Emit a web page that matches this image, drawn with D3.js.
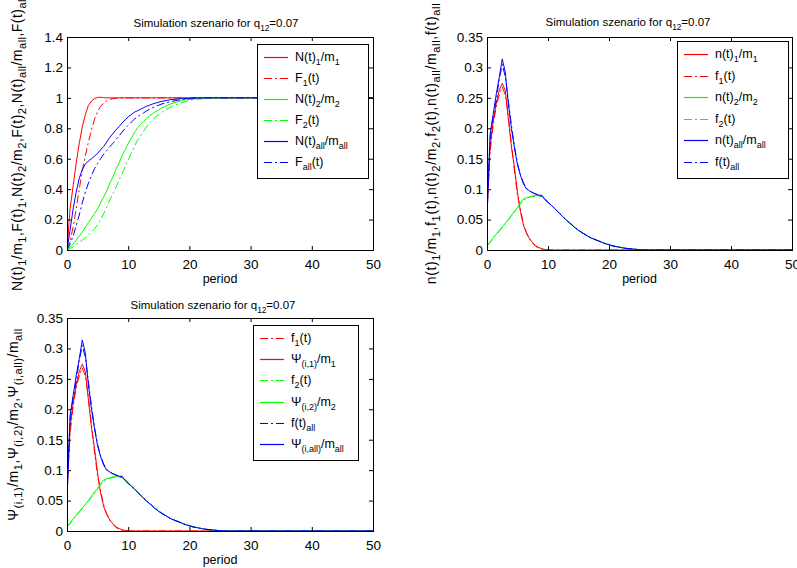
<!doctype html>
<html lang="en">
<head>
<meta charset="UTF-8">
<title>Simulation szenario</title>
<style>
  body { margin: 0; background: #fff; }
  svg { font-family: "Liberation Sans", Arial, sans-serif; }
</style>
</head>
<body>
<svg id="chart" width="797" height="568"></svg>
<script src="https://cdn.jsdelivr.net/npm/d3@7"></script>
<script>
// values are sampled every 0.5 period starting at 0; the last value is held up to period 50
const step = 0.5
const xTicks = [0, 10, 20, 30, 40, 50]
const cumTicks = [0, 0.2, 0.4, 0.6, 0.8, 1, 1.2, 1.4]
const denTicks = [0, 0.05, 0.1, 0.15, 0.2, 0.25, 0.3, 0.35]

// cumulative shares (top left)
const N1 = [0, 0.27, 0.42, 0.57, 0.70, 0.81, 0.89, 0.95, 0.98, 0.995, 1.003, 1.004, 1.001, 1]
const F1 = [0, 0.06, 0.15, 0.27, 0.40, 0.52, 0.62, 0.71, 0.79, 0.86, 0.91, 0.945, 0.967, 0.982, 0.99, 0.995, 0.998, 1]
const N2 = [0, 0.02, 0.04, 0.065, 0.09, 0.12, 0.15, 0.18, 0.21, 0.24, 0.27, 0.31, 0.35, 0.39, 0.44, 0.48, 0.53, 0.57,
  0.62, 0.66, 0.70, 0.735, 0.77, 0.80, 0.825, 0.845, 0.865, 0.882, 0.897, 0.91, 0.922, 0.934, 0.944, 0.953, 0.961,
  0.968, 0.974, 0.979, 0.984, 0.988, 0.991, 0.993, 0.995, 0.997, 0.998, 0.999, 1]
const F2 = [0, 0.01, 0.02, 0.035, 0.05, 0.065, 0.08, 0.10, 0.12, 0.14, 0.165, 0.20, 0.24, 0.28, 0.33, 0.37, 0.41, 0.46,
  0.50, 0.55, 0.59, 0.635, 0.68, 0.72, 0.75, 0.78, 0.81, 0.835, 0.855, 0.875, 0.89, 0.905, 0.92, 0.93, 0.94, 0.95,
  0.958, 0.965, 0.972, 0.977, 0.982, 0.986, 0.989, 0.991, 0.993, 0.995, 0.996, 0.997, 0.998, 0.999, 1]
const Nall = [0, 0.13, 0.27, 0.38, 0.47, 0.53, 0.565, 0.585, 0.60, 0.617, 0.635, 0.66, 0.68, 0.71, 0.74, 0.765, 0.79,
  0.81, 0.835, 0.855, 0.875, 0.89, 0.905, 0.915, 0.925, 0.935, 0.945, 0.952, 0.96, 0.966, 0.972, 0.977, 0.981, 0.985,
  0.988, 0.99, 0.992, 0.994, 0.995, 0.996, 0.997, 0.998, 0.999, 1]
const Fall = [0, 0.04, 0.09, 0.16, 0.23, 0.31, 0.38, 0.44, 0.49, 0.535, 0.57, 0.60, 0.63, 0.655, 0.68, 0.70, 0.725, 0.75,
  0.775, 0.80, 0.82, 0.84, 0.86, 0.875, 0.89, 0.90, 0.915, 0.925, 0.935, 0.945, 0.952, 0.96, 0.966, 0.971, 0.976, 0.98,
  0.984, 0.987, 0.99, 0.992, 0.994, 0.995, 0.996, 0.997, 0.998, 0.999, 1]

// densities (top right and bottom left)
const n1 = [0.07, 0.17, 0.21, 0.24, 0.262, 0.274, 0.262, 0.215, 0.17, 0.135, 0.095, 0.062, 0.04, 0.027, 0.018, 0.012,
  0.007, 0.004, 0.002, 0.001, 0]
const f1 = [0.06, 0.16, 0.205, 0.235, 0.255, 0.268, 0.255, 0.22, 0.175, 0.13, 0.09, 0.065, 0.042, 0.028, 0.018, 0.011,
  0.006, 0.003, 0.001, 0]
const n2 = [0.008, 0.013, 0.02, 0.026, 0.032, 0.038, 0.044, 0.05, 0.057, 0.064, 0.07, 0.078, 0.084, 0.086, 0.087, 0.089,
  0.09, 0.089, 0.088, 0.083, 0.078, 0.074, 0.069, 0.064, 0.059, 0.054, 0.049, 0.045, 0.04, 0.036, 0.032, 0.029, 0.026,
  0.023, 0.02, 0.018, 0.016, 0.014, 0.012, 0.01, 0.009, 0.007, 0.006, 0.005, 0.004, 0.003, 0.0025, 0.002, 0.0015, 0.001,
  0.0005, 0]
const f2 = [0.007, 0.012, 0.019, 0.025, 0.031, 0.037, 0.043, 0.049, 0.056, 0.062, 0.069, 0.076, 0.082, 0.085, 0.087,
  0.088, 0.089, 0.089, 0.087, 0.084, 0.079, 0.074, 0.069, 0.064, 0.059, 0.054, 0.05, 0.045, 0.041, 0.037, 0.033, 0.029,
  0.026, 0.023, 0.02, 0.018, 0.016, 0.014, 0.012, 0.01, 0.0085, 0.007, 0.006, 0.005, 0.004, 0.003, 0.0025, 0.002, 0.0015,
  0.001, 0.0005, 0]
const nall = [0.06, 0.19, 0.222, 0.255, 0.283, 0.314, 0.292, 0.24, 0.2, 0.168, 0.14, 0.122, 0.108, 0.1, 0.097, 0.094,
  0.092, 0.09, 0.09, 0.083, 0.078, 0.074, 0.069, 0.064, 0.059, 0.054, 0.049, 0.045, 0.04, 0.036, 0.032, 0.029, 0.026,
  0.023, 0.02, 0.018, 0.016, 0.014, 0.012, 0.01, 0.009, 0.007, 0.006, 0.005, 0.004, 0.003, 0.0025, 0.002, 0.0015, 0.001,
  0.0005, 0]
const fall = [0.05, 0.18, 0.22, 0.245, 0.28, 0.305, 0.285, 0.245, 0.205, 0.17, 0.142, 0.123, 0.11, 0.101, 0.097, 0.094,
  0.092, 0.09, 0.088, 0.084, 0.079, 0.074, 0.069, 0.064, 0.059, 0.054, 0.05, 0.045, 0.041, 0.037, 0.033, 0.029, 0.026,
  0.023, 0.02, 0.018, 0.016, 0.014, 0.012, 0.01, 0.0085, 0.007, 0.006, 0.005, 0.004, 0.003, 0.0025, 0.002, 0.0015, 0.001,
  0.0005, 0]

const RED = '#ff0000', GREEN = '#00ff00', BLUE = '#0000ff'
const DASH = '8,3,2,3'

const panels = [
  {
    box: [67, 373, 37, 250], yMax: 1.4, yTicks: cumTicks, titleX: 216, titleY: 27, ylabX: 22, ylabSpacing: 0.45,
    ylabel: 'N(t)_{1}/m_{1},F(t)_{1},N(t)_{2}/m_{2},F(t)_{2},N(t)_{all}/m_{all},F(t)_{all}',
    legend: {x: 257, y: 44, w: 111, h: 134},
    series: [
      {v: N1, c: RED, d: false, label: 'N(t)_{1}/m_{1}'},
      {v: F1, c: RED, d: true, label: 'F_{1}(t)'},
      {v: N2, c: GREEN, d: false, label: 'N(t)_{2}/m_{2}'},
      {v: F2, c: GREEN, d: true, label: 'F_{2}(t)'},
      {v: Nall, c: BLUE, d: false, label: 'N(t)_{all}/m_{all}'},
      {v: Fall, c: BLUE, d: true, label: 'F_{all}(t)'}
    ]
  },
  {
    box: [487, 792, 37, 250], yMax: 0.35, yTicks: denTicks, titleX: 628, titleY: 26, ylabX: 436, ylabSpacing: 0.6,
    ylabel: 'n(t)_{1}/m_{1},f_{1}(t),n(t)_{2}/m_{2},f_{2}(t),n(t)_{all}/m_{all},f(t)_{all}',
    legend: {x: 677, y: 41, w: 111, h: 137},
    series: [
      {v: n1, c: RED, d: false, label: 'n(t)_{1}/m_{1}'},
      {v: f1, c: RED, d: true, label: 'f_{1}(t)'},
      {v: n2, c: GREEN, d: false, label: 'n(t)_{2}/m_{2}'},
      {v: f2, c: GREEN, d: true, label: 'f_{2}(t)'},
      {v: nall, c: BLUE, d: false, label: 'n(t)_{all}/m_{all}'},
      {v: fall, c: BLUE, d: true, label: 'f(t)_{all}'}
    ]
  },
  {
    box: [67, 373, 318, 531], yMax: 0.35, yTicks: denTicks, titleX: 213, titleY: 309, ylabX: 18, ylabSpacing: 0.5,
    ylabel: 'Ψ_{(i,1)}/m_{1},Ψ_{(i,2)}/m_{2},Ψ_{(i,all)}/m_{all}',
    legend: {x: 253, y: 325, w: 105, h: 135},
    series: [
      {v: f1, c: RED, d: true, label: 'f_{1}(t)'},
      {v: n1, c: RED, d: false, label: 'Ψ_{(i,1)}/m_{1}'},
      {v: f2, c: GREEN, d: true, label: 'f_{2}(t)'},
      {v: n2, c: GREEN, d: false, label: 'Ψ_{(i,2)}/m_{2}'},
      {v: fall, c: BLUE, d: true, label: 'f(t)_{all}'},
      {v: nall, c: BLUE, d: false, label: 'Ψ_{(i,all)}/m_{all}'}
    ]
  }
]

const svg = d3.select('#chart')

// write text with _{...} parts as subscripts
function rich(text, str, size, subScale) {
  const re = /_\{([^}]*)\}|([^_]+)/g
  let m, cur = 0
  while ((m = re.exec(str))) {
    const isSub = m[1] !== undefined
    const target = isSub ? size * 0.32 : 0
    text.append('tspan')
      .attr('dy', target - cur)
      .attr('font-size', isSub ? size * (subScale || 0.72) : size)
      .text(isSub ? m[1] : m[2])
    cur = target
  }
  return text
}

panels.forEach((p, k) => {
  const [x0, x1, y0, y1] = p.box
  const x = d3.scaleLinear().domain([0, 50]).range([x0, x1])
  const y = d3.scaleLinear().domain([0, p.yMax]).range([y1, y0])
  const g = svg.append('g')

  g.append('clipPath').attr('id', 'clip' + k)
    .append('rect').attr('x', x0).attr('y', y0).attr('width', x1 - x0).attr('height', y1 - y0)

  const line = d3.line().x(d => x(d[0])).y(d => y(d[1]))
  const plot = g.append('g').attr('clip-path', `url(#clip${k})`)
  p.series.forEach(s => {
    const pts = s.v.map((v, i) => [i * step, v])
    pts.push([50, s.v[s.v.length - 1]])
    plot.append('path')
      .attr('d', line(pts))
      .attr('fill', 'none')
      .attr('stroke', s.c)
      .attr('stroke-width', 1)
      .attr('stroke-dasharray', s.d ? DASH : null)
  })

  // axes, ticks pointing inwards on all four sides
  const fmt = d => String(d)
  g.append('g').attr('transform', `translate(0,${y1})`)
    .call(d3.axisBottom(x).tickValues(xTicks).tickSize(-4).tickSizeOuter(0).tickPadding(9).tickFormat(fmt))
  g.append('g').attr('transform', `translate(0,${y0})`)
    .call(d3.axisTop(x).tickValues(xTicks).tickSize(-4).tickSizeOuter(0).tickFormat(''))
  g.append('g').attr('transform', `translate(${x0},0)`)
    .call(d3.axisLeft(y).tickValues(p.yTicks).tickSize(-4).tickSizeOuter(0).tickPadding(4).tickFormat(fmt))
  g.append('g').attr('transform', `translate(${x1},0)`)
    .call(d3.axisRight(y).tickValues(p.yTicks).tickSize(-4).tickSizeOuter(0).tickFormat(''))
  g.selectAll('.domain').remove()
  g.selectAll('.tick text').attr('font-size', 13.5).attr('font-family', null).attr('fill', '#000')
  g.selectAll('.tick line').attr('stroke', '#000')
  g.append('rect')
    .attr('x', x0 + 0.5).attr('y', y0 + 0.5)
    .attr('width', x1 - x0).attr('height', y1 - y0)
    .attr('fill', 'none').attr('stroke', '#000')

  // title
  const t = g.append('text').attr('x', p.titleX).attr('y', p.titleY)
    .attr('text-anchor', 'middle').attr('font-size', 11.5)
  rich(t, 'Simulation szenario for q_{12}=0.07', 11.5)

  // x label
  g.append('text').attr('x', (x0 + x1) / 2).attr('y', y1 + 33)
    .attr('text-anchor', 'middle').attr('font-size', 12.5).text('period')

  // y label
  const yl = g.append('text')
    .attr('transform', `translate(${p.ylabX},${(y0 + y1) / 2}) rotate(-90)`)
    .attr('text-anchor', 'middle').attr('font-size', 14)
    .attr('letter-spacing', p.ylabSpacing)
  rich(yl, p.ylabel, 14, 0.8)

  // legend
  const L = p.legend
  const lg = g.append('g')
  lg.append('rect').attr('x', L.x + 0.5).attr('y', L.y + 0.5).attr('width', L.w).attr('height', L.h)
    .attr('fill', '#fff').attr('stroke', '#000')
  const rowH = (L.h - 8) / p.series.length
  p.series.forEach((s, i) => {
    const cy = Math.round(L.y + 13 + i * rowH) + 0.5
    lg.append('line').attr('x1', L.x + 7).attr('x2', L.x + 31).attr('y1', cy).attr('y2', cy)
      .attr('stroke', s.c).attr('stroke-width', 1.2).attr('stroke-dasharray', s.d ? DASH : null)
    const tx = lg.append('text').attr('x', L.x + 38).attr('y', cy + 3).attr('font-size', 12.5)
    rich(tx, s.label, 12.5)
  })
})
</script>
</body>
</html>
